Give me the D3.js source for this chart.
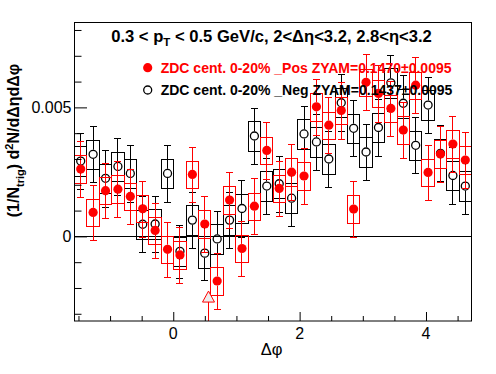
<!DOCTYPE html>
<html><head><meta charset="utf-8">
<script src="https://cdn.jsdelivr.net/npm/d3@7"></script>
<style>body{margin:0;background:#fff}svg{display:block}</style>
</head><body><svg id="c" width="496" height="374"></svg>
<script>
// ---- data ----
const binCenters = [-1.4726,-1.2763,-1.0799,-0.8836,-0.6872,-0.4909,-0.2945,-0.0982,0.0982,0.2945,0.4909,0.6872,0.8836,1.0799,1.2763,1.4726,1.6690,1.8653,2.0617,2.2580,2.4544,2.6507,2.8471,3.0434,3.2398,3.4361,3.6325,3.8288,4.0252,4.2215,4.4179,4.6142];
const binWidth = 0.19635;
const posValues = [2.61,0.93,1.77,1.83,1.55,1.07,0.23,-0.50,-0.72,2.40,0.48,-1.73,1.41,-0.47,1.17,3.33,1.86,2.49,2.34,5.02,4.31,4.88,1.06,5.97,5.54,4.96,4.12,5.86,2.48,3.19,3.58,2.96].map(v=>v*1e-3);
const negValues = [2.92,3.18,2.25,2.71,2.44,0.47,0.48,2.44,-0.58,0.63,-0.65,-0.10,0.63,1.08,3.89,1.95,2.04,1.48,3.97,3.66,3.00,5.18,4.19,3.27,4.22,5.95,5.16,3.53,5.09,3.22,2.36,1.95].map(v=>v*1e-3);
const posStat = [1.08,1.08,1.07,1.08,1.08,1.08,1.08,1.07,1.08,1.08,1.08,1.07,1.08,1.08,1.09,1.09,1.08,1.08,1.08,1.09,1.08,1.09,1.08,1.09,1.09,1.08,1.08,1.09,1.08,1.08,1.09,1.08].map(v=>v*1e-3);
const negStat = [1.09,1.09,1.10,1.09,1.09,1.09,1.09,1.09,1.02,1.09,1.05,1.10,1.09,1.09,1.10,1.09,1.09,1.09,1.10,1.09,1.09,1.10,1.09,1.09,1.10,1.09,1.10,1.09,1.10,1.09,1.09,1.09].map(v=>v*1e-3);
const posSys = posValues.map(()=>0.53e-3);
const negSys = negValues.map(()=>0.57e-3);
const xTickLabels = ["0","2","4"];
const yTickLabels = ["0","0.005"];
const arrowX = [0.554];
const arrowTip = [-2.12e-3];
const legendLabels = ["ZDC cent. 0-20% _Pos ZYAM=0.1470\u00b10.0095","ZDC cent. 0-20% _Neg ZYAM=0.1437\u00b10.0095"];

// ---- layout ----
const W=496,H=374;
const L=74,R=471,T=22.5,B=321;
const svg=d3.select("#c");
const FONT="'Liberation Sans', Arial, Helvetica, sans-serif";
const x=d3.scaleLinear().domain([-Math.PI/2,3*Math.PI/2]).range([L,R]);
const y=d3.scaleLinear().domain([-0.00328,0.00829]).range([B,T]);

// zero line
svg.append("line").attr("x1",L).attr("x2",R).attr("y1",Math.round(y(0))+0.5).attr("y2",Math.round(y(0))+0.5)
  .attr("stroke","#000").attr("stroke-width",1);

function drawSeries(vals,stat,sys,color,filled){
  const g=svg.append("g");
  const r=4.6;
  binCenters.forEach((c,i)=>{
    const v=vals[i];
    const x0=Math.round(x(c-binWidth/2))+0.5, x1=Math.round(x(c+binWidth/2))+0.5;
    const yt=Math.round(y(v+sys[i]))+0.5, yb=Math.round(y(v-sys[i]))+0.5;
    g.append("rect").attr("x",x0).attr("y",yt).attr("width",x1-x0).attr("height",yb-yt)
      .attr("fill","none").attr("stroke",color).attr("stroke-width",1);
  });
  binCenters.forEach((c,i)=>{
    const v=vals[i];
    const cx=Math.round(x(c))+0.5, cy=y(v);
    const ye1=Math.round(y(v+stat[i]))+0.5, ye2=Math.round(y(v-stat[i]))+0.5;
    g.append("line").attr("x1",cx).attr("x2",cx).attr("y1",ye1).attr("y2",Math.max(ye1,cy-r)).attr("stroke",color);
    g.append("line").attr("x1",cx).attr("x2",cx).attr("y1",Math.min(ye2,cy+r)).attr("y2",ye2).attr("stroke",color);
    g.append("line").attr("x1",cx-3.5).attr("x2",cx+3.5).attr("y1",ye1).attr("y2",ye1).attr("stroke",color);
    g.append("line").attr("x1",cx-3.5).attr("x2",cx+3.5).attr("y1",ye2).attr("y2",ye2).attr("stroke",color);
  });
  binCenters.forEach((c,i)=>{
    const cx=x(c)+0.5, cy=y(vals[i]);
    if(filled) g.append("circle").attr("cx",cx).attr("cy",cy).attr("r",r).attr("fill",color);
    else g.append("circle").attr("cx",cx).attr("cy",cy).attr("r",r-0.6).attr("fill","none").attr("stroke",color).attr("stroke-width",1.3);
  });
}
drawSeries(negValues,negStat,negSys,"#000",false);
drawSeries(posValues,posStat,posSys,"#ff0000",true);

// arrow
arrowX.forEach((ax,i)=>{
  const px=Math.round(x(ax))+0.5, tip=y(arrowTip[i]);
  svg.append("line").attr("x1",px).attr("x2",px).attr("y1",tip+11).attr("y2",B).attr("stroke","#ff0000");
  svg.append("path").attr("d",`M${px},${tip}L${px-6},${tip+11}L${px+6},${tip+11}Z`)
    .attr("fill","#eeeeee").attr("stroke","#ff0000").attr("stroke-width",1);
});

// frame
svg.append("rect").attr("x",L+0.5).attr("y",T).attr("width",R-L).attr("height",B-T)
  .attr("fill","none").attr("stroke","#000").attr("stroke-width",1);

// x axis
const xAxis=d3.axisBottom(x).tickValues(d3.range(-1.5,4.51,0.5)).tickSize(-5).tickFormat("");
const gx=svg.append("g").attr("transform",`translate(0,${B})`).call(xAxis);
gx.select(".domain").remove();
gx.selectAll(".tick line").attr("stroke","#000").attr("y2",d=>[0,2,4].includes(d)?-9:-5);
xTickLabels.forEach(t=>{
  svg.append("text").attr("x",x(+t)).attr("y",338.5).attr("text-anchor","middle")
    .attr("font-family",FONT).attr("font-size",16).text(t);
});
// y axis
const yAxis=d3.axisLeft(y).tickValues(d3.range(-3,8.5,1).map(v=>v*1e-3)).tickSize(-7).tickFormat("");
const gy=svg.append("g").attr("transform",`translate(${L+0.5},0)`).call(yAxis);
gy.select(".domain").remove();
gy.selectAll(".tick line").attr("stroke","#000").attr("x2",d=>(Math.abs(d)<1e-9||Math.abs(d-0.005)<1e-9)?12.5:7);
yTickLabels.forEach(t=>{
  svg.append("text").attr("x",71.5).attr("y",y(+t)+5.8).attr("text-anchor","end")
    .attr("font-family",FONT).attr("font-size",16).text(t);
});

// axis titles
svg.append("text").attr("x",271.7).attr("y",354.5).attr("text-anchor","middle")
  .attr("font-family",FONT).attr("font-size",16.5).text("\u0394\u03c6");
const yt=svg.append("text").attr("transform","translate(18.5,140.5) rotate(-90)").attr("text-anchor","middle")
  .attr("font-family",FONT).attr("font-size",16).attr("font-weight","bold");
yt.append("tspan").text("(1/N");
yt.append("tspan").attr("font-size",11).attr("dy",5).text("trig");
yt.append("tspan").attr("dy",-5).text(") d");
yt.append("tspan").attr("font-size",11).attr("dy",-6).text("2");
yt.append("tspan").attr("dy",6).text("N/d\u0394\u03b7d\u0394\u03c6");

// title
const tt=svg.append("text").attr("x",271.5).attr("y",41.7).attr("text-anchor","middle")
  .attr("font-family",FONT).attr("font-size",16.6).attr("font-weight","bold");
tt.append("tspan").text("0.3 < p");
tt.append("tspan").attr("font-size",11.5).attr("dy",4).text("T");
tt.append("tspan").attr("dy",-4).text(" < 0.5 GeV/c, 2<\u0394\u03b7<3.2, 2.8<\u03b7<3.2");

// legend
const legY=[67.7,90];
const legColors=["#ff0000","#000"];
legendLabels.forEach((lab,i)=>{
  if(i===0) svg.append("circle").attr("cx",147.7).attr("cy",legY[i]).attr("r",4.6).attr("fill",legColors[i]);
  else svg.append("circle").attr("cx",147.7).attr("cy",legY[i]).attr("r",4.0).attr("fill","none").attr("stroke",legColors[i]).attr("stroke-width",1.3);
  svg.append("text").attr("x",160.7).attr("y",legY[i]+5).attr("font-family",FONT).attr("font-size",14)
    .attr("font-weight","bold").attr("fill",legColors[i]).text(lab);
});
</script></body></html>
